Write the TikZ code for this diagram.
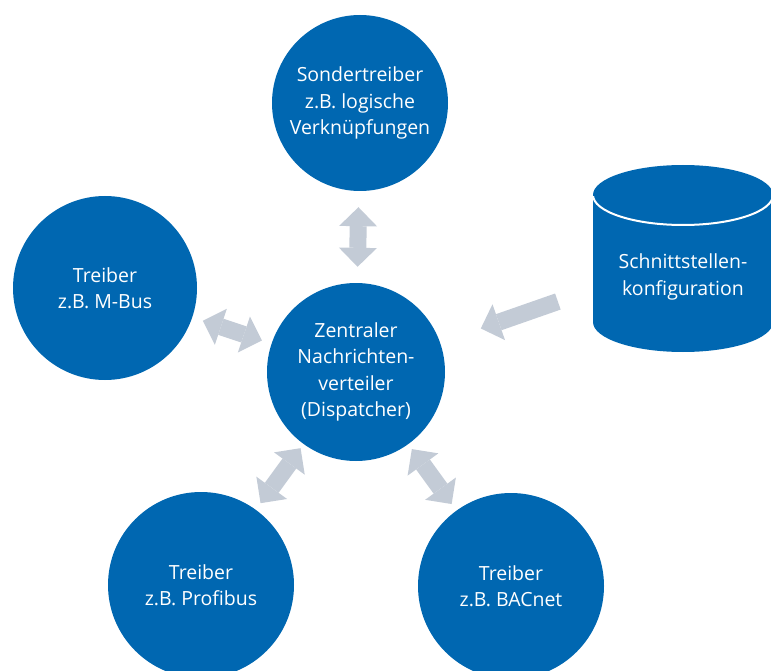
\documentclass[tikz,border=0pt]{standalone}
\usepackage{fontspec}
\setmainfont{Open Sans}
\usetikzlibrary{arrows.meta}
\definecolor{dispblue}{HTML}{0067B1}
\definecolor{linkgray}{HTML}{C3CBD6}
\begin{document}
\begin{tikzpicture}[x=1pt,y=-1pt,
  hub/.style={circle, fill=dispblue, text=white, align=center, inner sep=0pt,
    font=\fontsize{19.5}{26.5}\selectfont},
  storelabel/.style={text=white, align=center, inner sep=0pt,
    font=\fontsize{19.5}{26.5}\selectfont},
  link/.style={draw=linkgray, line width=17pt,
    arrows={Triangle[width=38pt,length=19pt,line width=0pt]-Triangle[width=38pt,length=19pt,line width=0pt]}},
  feed/.style={draw=linkgray, line width=17pt,
    arrows={-Triangle[width=38pt,length=19pt,line width=0pt]}},
]
\useasboundingbox (0,0) rectangle (771,671);

% driver circles around the dispatcher
\node[hub, minimum size=176pt] (sonder) at (360,103) {Sondertreiber\\z.B. logische\\Verknüpfungen};
\node[hub, minimum size=184pt] (mbus) at (105,288) {Treiber\\z.B. M-Bus};
\node[hub, minimum size=178pt] (disp) at (356,372) {Zentraler\\Nachrichten-\\verteiler\\(Dispatcher)};
\node[hub, minimum size=186pt] (profibus) at (201,585) {Treiber\\z.B. Profibus};
\node[hub, minimum size=186pt] (bacnet) at (511,586) {Treiber\\z.B. BACnet};

% configuration store drawn as a cylinder
\node[minimum width=180pt, minimum height=187pt, inner sep=0pt] (store) at (683,258) {};
\fill[dispblue] (683,322) ellipse [x radius=90, y radius=30];
\fill[dispblue] (593,195) rectangle (773,322);
\fill[dispblue] (683,195) ellipse [x radius=90, y radius=30];
\begin{scope}
  \clip (590,197) rectangle (776,240);
  \draw[white, line width=2pt] (683,195) ellipse [x radius=90, y radius=30];
\end{scope}
\node[storelabel] (storetext) at (683,277) {Schnittstellen-\\konfiguration};

% message paths
\draw[link, shorten <=16pt, shorten >=16pt] (sonder) -- (disp);
\draw[link, shorten <=11pt, shorten >=10pt] (mbus) -- (disp);
\draw[link, shorten <=8pt, shorten >=5pt] (profibus) -- (disp);
\draw[link, shorten <=8pt, shorten >=6pt] (bacnet) -- (disp);
\draw[feed, shorten <=37pt, shorten >=43pt] (store) -- (disp);
\end{tikzpicture}
\end{document}
